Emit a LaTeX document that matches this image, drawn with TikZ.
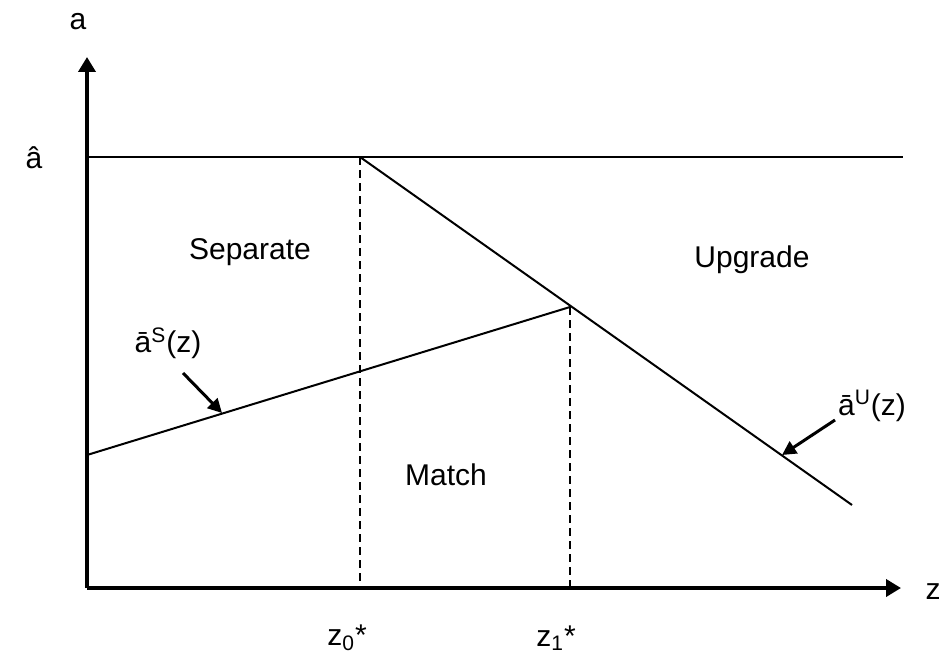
\documentclass[tikz,border=0pt]{standalone}
\usepackage{fontspec}
\setmainfont{Liberation Sans}
\usepackage{tikz}
\usetikzlibrary{arrows.meta,positioning,calc}

\begin{document}
\begin{tikzpicture}[x=0.5pt,y=-0.5pt,
    axis/.style={line width=2pt,-{Triangle[length=7.5pt,width=8.5pt]}},
    curve/.style={line width=1pt},
    guide/.style={line width=1pt,dashed,dash pattern=on 4pt off 2.5pt},
    pointer/.style={line width=1.5pt,-{Triangle[length=7pt,width=7pt]}},
    lbl/.style={font=\fontsize{15}{17}\selectfont,inner sep=0pt}]
    \useasboundingbox (0,0) rectangle (945,668);

    % Axes
    \coordinate (origin) at (87,588);
    \coordinate (ytip) at (87,57);
    \coordinate (xtip) at (901,588);
    \draw[axis] (origin) -- (ytip);
    \draw[axis] (origin) -- (xtip);
    \node[lbl] (alabel) at (78,22) {a};
    \node[lbl] (zlabel) at (933,592) {z};

    % Upper bound a-hat
    \coordinate (ahat) at (87,157);
    \coordinate (ahatend) at (903,157);
    \draw[curve] (ahat) -- (ahatend);
    \node[lbl] (ahatlabel) at (34,158) {â};

    % Thresholds
    \coordinate (kink0) at (360,157);
    \coordinate (kink1) at (570,307);
    \coordinate (foot0) at (360,588);
    \coordinate (foot1) at (570,588);
    \draw[guide] (kink0) -- (foot0);
    \draw[guide] (kink1) -- (foot1);
    \node[lbl] (z0label) at (347,638) {z\textsubscript{0}*};
    \node[lbl] (z1label) at (556,638) {z\textsubscript{1}*};

    % Boundaries
    \coordinate (sstart) at (87,455);
    \coordinate (uend) at (852,505);
    \draw[curve] (sstart) -- (kink1);
    \draw[curve] (kink0) -- (uend);

    % Regions
    \node[lbl] (separate) at (250,252) {Separate};
    \node[lbl] (upgrade) at (752,260) {Upgrade};
    \node[lbl] (match) at (446,475) {Match};

    % Curve labels
    \node[lbl] (slabel) at (168,343) {ā\textsuperscript{S}(z)};
    \node[lbl] (ulabel) at (872,406) {ā\textsuperscript{U}(z)};
    \coordinate (stail) at (183,373);
    \coordinate (shead) at (222,413);
    \coordinate (utail) at (835,420);
    \coordinate (uhead) at (782,455);
    \draw[pointer] (stail) -- (shead);
    \draw[pointer] (utail) -- (uhead);
\end{tikzpicture}
\end{document}
